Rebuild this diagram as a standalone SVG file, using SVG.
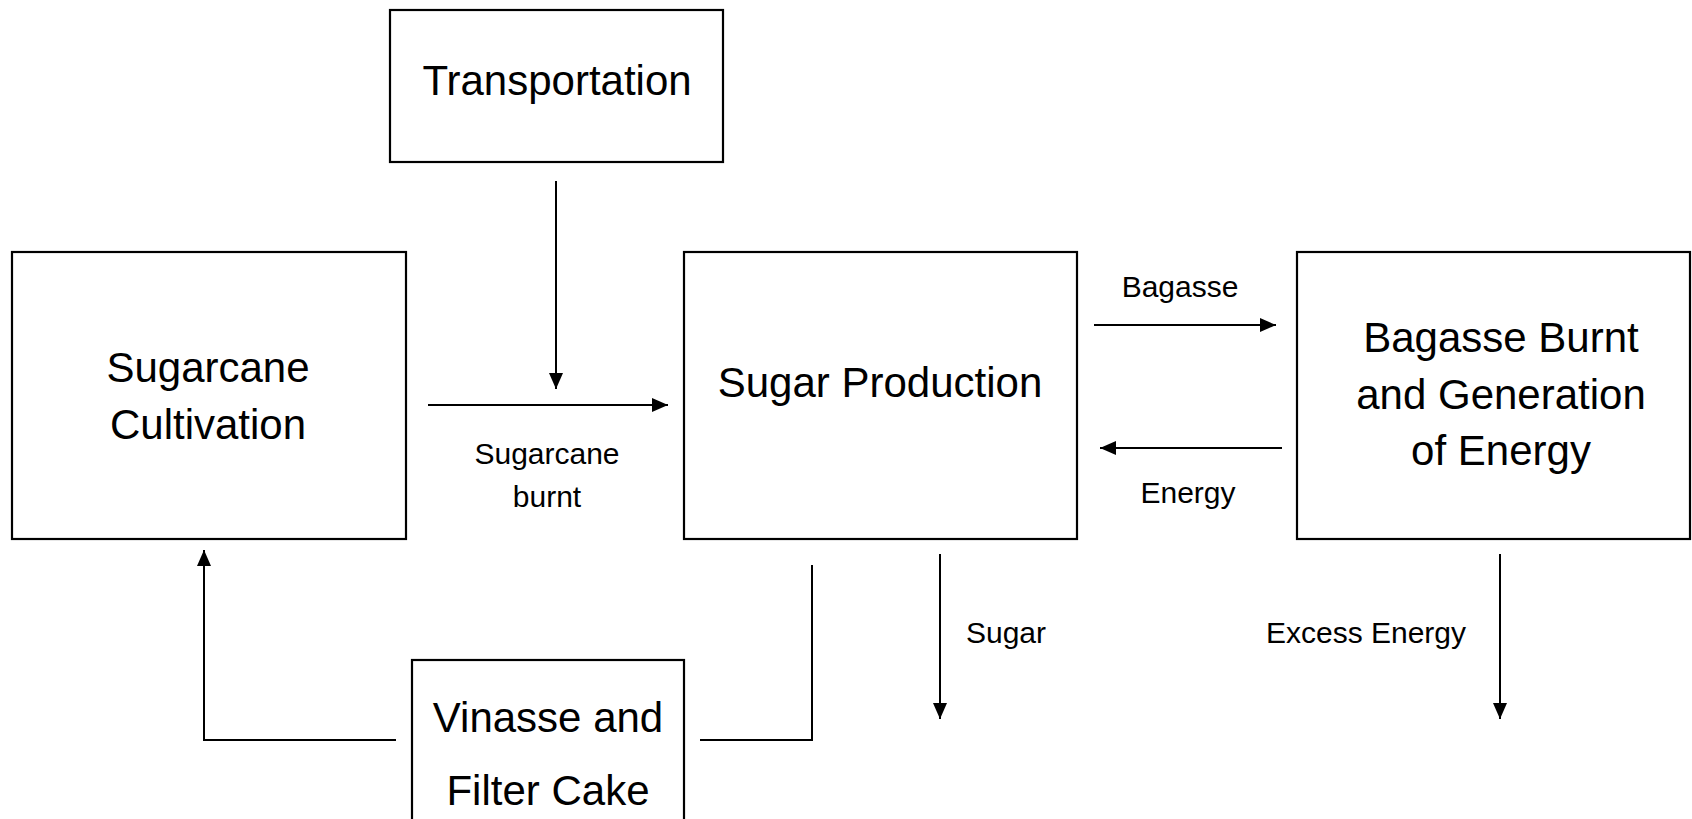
<svg xmlns="http://www.w3.org/2000/svg" width="1692" height="819" viewBox="0 0 1692 819">
<style>
.box{fill:#fff;stroke:#000;stroke-width:2.2}
.big{font-family:"Liberation Sans",Arial,sans-serif;font-size:42px;fill:#000;text-anchor:middle}
.small{font-family:"Liberation Sans",Arial,sans-serif;font-size:30px;fill:#000;text-anchor:middle}
.ln{fill:none;stroke:#000;stroke-width:2}
</style>
<defs>
<marker id="ah" markerUnits="userSpaceOnUse" markerWidth="16" markerHeight="14" refX="16" refY="7" orient="auto">
<path d="M0,0 L16,7 L0,14 z" fill="#000"/>
</marker>
</defs>
<rect width="1692" height="819" fill="#fff"/>
<g id="transportation">
<rect class="box" x="390" y="10" width="333" height="152"/>
<text class="big" x="557" y="95">Transportation</text>
</g>
<g id="sugarcane-cultivation">
<rect class="box" x="12" y="252" width="394" height="287"/>
<text class="big" x="208" y="382">Sugarcane</text>
<text class="big" x="208" y="439">Cultivation</text>
</g>
<g id="sugar-production">
<rect class="box" x="684" y="252" width="393" height="287"/>
<text class="big" x="880" y="397">Sugar Production</text>
</g>
<g id="bagasse-burnt">
<rect class="box" x="1297" y="252" width="393" height="287"/>
<text class="big" x="1501" y="352">Bagasse Burnt</text>
<text class="big" x="1501" y="409">and Generation</text>
<text class="big" x="1501" y="465">of Energy</text>
</g>
<g id="vinasse">
<rect class="box" x="412" y="660" width="272" height="180"/>
<text class="big" x="548" y="732">Vinasse and</text>
<text class="big" x="548" y="805">Filter Cake</text>
</g>
<g id="connectors">
<line class="ln" x1="556" y1="181" x2="556" y2="389" marker-end="url(#ah)"/>
<line class="ln" x1="428" y1="405" x2="668" y2="405" marker-end="url(#ah)"/>
<line class="ln" x1="1094" y1="325" x2="1276" y2="325" marker-end="url(#ah)"/>
<line class="ln" x1="1282" y1="448" x2="1100" y2="448" marker-end="url(#ah)"/>
<line class="ln" x1="940" y1="554" x2="940" y2="719" marker-end="url(#ah)"/>
<line class="ln" x1="1500" y1="554" x2="1500" y2="719" marker-end="url(#ah)"/>
<polyline class="ln" points="396,740 204,740 204,550" marker-end="url(#ah)"/>
<polyline class="ln" points="700,740 812,740 812,565"/>
</g>
<g id="labels">
<text class="small" x="547" y="464">Sugarcane</text>
<text class="small" x="547" y="507">burnt</text>
<text class="small" x="1180" y="297">Bagasse</text>
<text class="small" x="1188" y="503">Energy</text>
<text class="small" x="1006" y="643">Sugar</text>
<text class="small" x="1366" y="643">Excess Energy</text>
</g>
</svg>
